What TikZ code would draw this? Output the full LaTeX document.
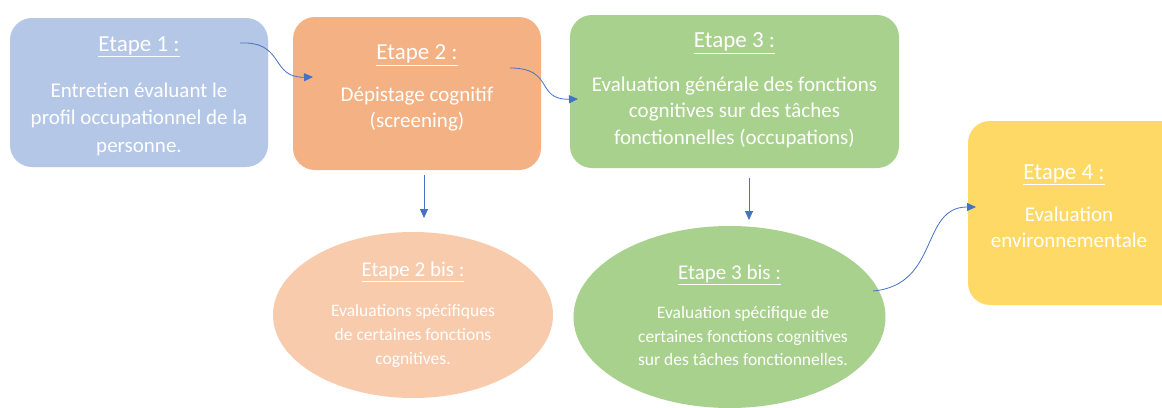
\documentclass[tikz,border=0pt]{standalone}
\usepackage{fontspec}
\setmainfont{Carlito}
\usetikzlibrary{arrows.meta,shapes.geometric}
\definecolor{cblue}{HTML}{B4C7E7}
\definecolor{corange}{HTML}{F4B183}
\definecolor{cgreen}{HTML}{A9D18E}
\definecolor{cyellow}{HTML}{FFD966}
\definecolor{clorange}{HTML}{F8CBAD}
\definecolor{carrow}{HTML}{4472C4}
\tikzset{
  boxshape/.style={rounded corners=22pt, inner sep=0pt},
  ellshape/.style={ellipse, inner sep=0pt},
  ttl/.style={text=white, font=\fontsize{23}{25}\selectfont, inner sep=0pt},
  body/.style={text=white, font=\fontsize{21}{26.5}\selectfont, align=center, inner sep=0pt},
  ebody/.style={text=white, font=\fontsize{17.5}{23.5}\selectfont, align=center, inner sep=0pt},
  ettl/.style={text=white, font=\fontsize{21}{23}\selectfont, inner sep=0pt},
  conn/.style={draw=carrow, line width=0.8pt, -{Triangle[length=9pt,width=8pt]}},
}
\begin{document}
\begin{tikzpicture}[x=1pt,y=-1pt]
\useasboundingbox (0,0) rectangle (1162,407);
\fill[white] (0,0) rectangle (1162,407);
% shapes
\fill[cblue, boxshape] (10,18) rectangle (268,167);
\node[minimum width=258pt, minimum height=149pt, inner sep=0pt] (b1) at (139,92.5) {};
\fill[corange, boxshape] (293,17) rectangle (541,170);
\node[minimum width=248pt, minimum height=153pt, inner sep=0pt] (b2) at (417,93.5) {};
\fill[cgreen, boxshape] (570,15) rectangle (899,168);
\node[minimum width=329pt, minimum height=153pt, inner sep=0pt] (b3) at (734.5,91.5) {};
\fill[cyellow, boxshape] (968,121) rectangle (1190,305);
\node[minimum width=222pt, minimum height=184pt, inner sep=0pt] (b4) at (1079,213) {};
\node[ellshape, fill=clorange, minimum width=280pt, minimum height=166pt] (e2) at (413,315) {};
\node[ellshape, fill=cgreen, minimum width=312pt, minimum height=182pt] (e3) at (729.5,317) {};
% texts
\node[ttl] (t1) at (139,47) {\underline{Etape 1 :}};
\node[body, font=\fontsize{21}{27.5}\selectfont] (x1) at (139,119) {Entretien évaluant le\\profil occupationnel de la\\personne.};
\node[ttl] (t2) at (417,55) {\underline{Etape 2 :}};
\node[body] (x2) at (417,109) {Dépistage cognitif\\(screening)};
\node[ttl] (t3) at (734.5,43) {\underline{Etape 3 :}};
\node[body] (x3) at (734.5,112) {Evaluation générale des fonctions\\cognitives sur des tâches\\fonctionnelles (occupations)};
\node[ttl] (t4) at (1064,175) {\underline{Etape 4 :}};
\node[body] (x4) at (1069,227.5) {Evaluation\\environnementale};
\node[ettl] (t5) at (413,272) {\underline{Etape 2 bis :}};
\node[ebody, font=\fontsize{17.5}{24}\selectfont] (x5) at (413,336) {Evaluations spécifiques\\de certaines fonctions\\cognitives.};
\node[ettl] (t6) at (729.5,275) {\underline{Etape 3 bis :}};
\node[ebody] (x6) at (743,336) {Evaluation spécifique de\\certaines fonctions cognitives\\sur des tâches fonctionnelles.};
% connector end points
\coordinate (a1s) at (240,43);
\coordinate (a1e) at (313,77);
\coordinate (a2s) at (510,68);
\coordinate (a2e) at (578,99);
\coordinate (a3s) at (424,175);
\coordinate (a3e) at (424,218);
\coordinate (a4s) at (749,178);
\coordinate (a4e) at (749,220);
\coordinate (a5s) at (873,291);
\coordinate (a5e) at (976,207);
\draw[conn] (a1s) .. controls (285,41) and (270,78) .. (a1e);
\draw[conn] (a2s) .. controls (555,68) and (535,100) .. (a2e);
\draw[conn] (a3s) -- (a3e);
\draw[conn] (a4s) -- (a4e);
\draw[conn] (a5s) .. controls (940,285) and (920,207) .. (a5e);
\end{tikzpicture}
\end{document}
